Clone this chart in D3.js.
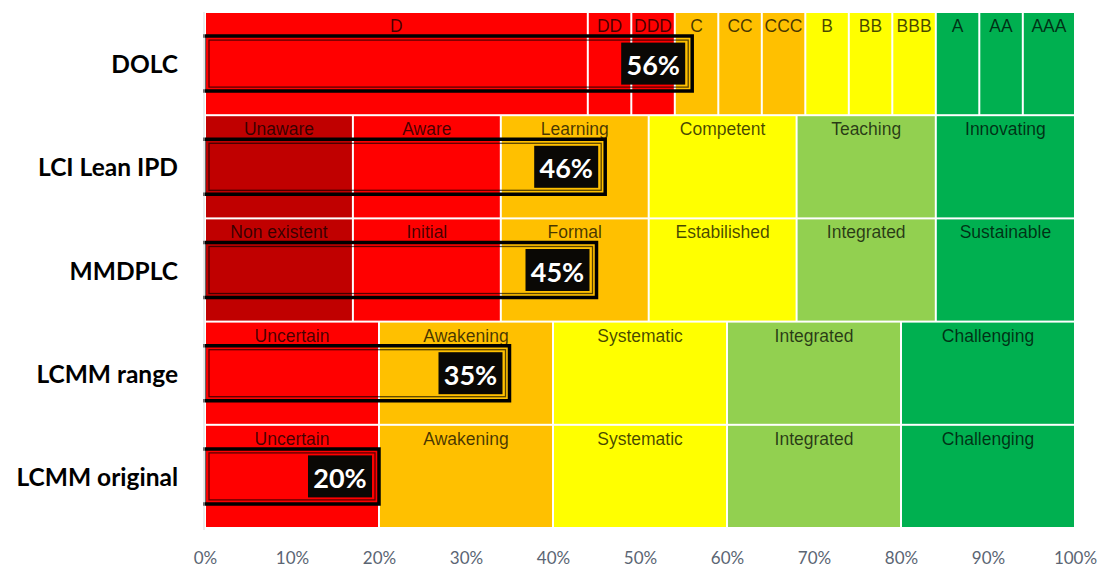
<!DOCTYPE html>
<html><head><meta charset="utf-8">
<script src="https://cdn.jsdelivr.net/npm/d3@7/dist/d3.min.js"></script>
<style>body{margin:0;background:#fff}svg{display:block}</style>
</head><body>
<svg id="chart" width="1099" height="570"></svg>
<script>
const categories = ["DOLC","LCI Lean IPD","MMDPLC","LCMM range","LCMM original"];
const scores = [56,46,45,35,20];
const dolcLevels = ["D","DD","DDD","C","CC","CCC","B","BB","BBB","A","AA","AAA"];
const dolcWidths = [44,5,5,5,5,5,5,5,5,5,5,6];
const dolcColors = ["#FF0000","#FF0000","#FF0000","#FFC000","#FFC000","#FFC000","#FFFF00","#FFFF00","#FFFF00","#00B050","#00B050","#00B050"];
const lciLevels = ["Unaware","Aware","Learning","Competent","Teaching","Innovating"];
const mmdplcLevels = ["Non existent","Initial","Formal","Estabilished","Integrated","Sustainable"];
const sixWidths = [17,17,17,17,16,16];
const sixColors = ["#C00000","#FF0000","#FFC000","#FFFF00","#92D050","#00B050"];
const lcmmLevels = ["Uncertain","Awakening","Systematic","Integrated","Challenging"];
const lcmmWidths = [20,20,20,20,20];
const lcmmColors = ["#FF0000","#FFC000","#FFFF00","#92D050","#00B050"];
const tickValues = [0,10,20,30,40,50,60,70,80,90,100];

const rows = [
  {levels: dolcLevels, widths: dolcWidths, colors: dolcColors},
  {levels: lciLevels, widths: sixWidths, colors: sixColors},
  {levels: mmdplcLevels, widths: sixWidths, colors: sixColors},
  {levels: lcmmLevels, widths: lcmmWidths, colors: lcmmColors},
  {levels: lcmmLevels, widths: lcmmWidths, colors: lcmmColors}
];

const svg = d3.select("#chart");
const x = d3.scaleLinear().domain([0,100]).range([205,1075]);
const y = d3.scaleBand().domain(categories).range([12,528]).paddingInner(0);
const bw = y.bandwidth();

categories.forEach((cat, i) => {
  const r = rows[i];
  let acc = 0;
  const segs = r.levels.map((lv, j) => {
    const s = {name: lv, x0: acc, x1: acc + r.widths[j], color: r.colors[j]};
    acc += r.widths[j];
    return s;
  });
  const g = svg.append("g");
  const y0 = y(cat);
  g.selectAll("rect.seg").data(segs).join("rect")
    .attr("class","seg")
    .attr("x", d => x(d.x0) + 1)
    .attr("y", y0 + 1)
    .attr("width", d => x(d.x1) - x(d.x0) - 2)
    .attr("height", bw - 2)
    .attr("fill", d => d.color);
  g.selectAll("text.lv").data(segs).join("text")
    .attr("class","lv")
    .attr("x", d => (x(d.x0) + x(d.x1)) / 2)
    .attr("y", y0 + 20)
    .attr("text-anchor","middle")
    .attr("font-family","'Liberation Sans', Arial, sans-serif")
    .attr("font-size", 17.5)
    .attr("fill","#000")
    .attr("fill-opacity", 0.72)
    .text(d => d.name);

  // category label
  svg.append("text")
    .attr("x", 178).attr("y", y0 + bw/2)
    .attr("text-anchor","end").attr("dominant-baseline","central")
    .attr("font-family","Lato, 'Open Sans', sans-serif")
    .attr("font-weight","bold").attr("font-size", 24.5)
    .attr("fill","#000")
    .text(cat);

  // score bar
  const bh = 55;
  const by0 = y0 + bw/2 - bh/2, by1 = by0 + bh;
  const xe = x(scores[i]);
  const xs = x(0);
  g.append("rect")
    .attr("x", xs + 4).attr("y", by0 + 4)
    .attr("width", xe - xs - 8).attr("height", bh - 8)
    .attr("fill","none").attr("stroke","#000").attr("stroke-opacity",0.65).attr("stroke-width",1.3);
  g.append("path")
    .attr("d", `M${xs-2},${by0}H${xe}V${by1}H${xs-2}`)
    .attr("fill","none").attr("stroke","#000").attr("stroke-width",3.5);
  g.append("line")
    .attr("x1", xs+0.5).attr("x2", xs+0.5).attr("y1", by0).attr("y2", by1)
    .attr("stroke","#000").attr("stroke-opacity",0.6).attr("stroke-width",1.2);
  // value box
  const boxW = 64, boxH = 42;
  g.append("rect")
    .attr("x", xe - 7 - boxW).attr("y", y0 + bw/2 - boxH/2)
    .attr("width", boxW).attr("height", boxH)
    .attr("fill","#0a0805");
  g.append("text")
    .attr("x", xe - 7 - boxW/2).attr("y", y0 + bw/2 + 1)
    .attr("text-anchor","middle").attr("dominant-baseline","central")
    .attr("font-family","Lato, 'Open Sans', sans-serif")
    .attr("font-weight","bold").attr("font-size", 27)
    .attr("fill","#fff")
    .text(scores[i] + "%");
});

// faint axis line
svg.append("line").attr("x1",204).attr("x2",204).attr("y1",12).attr("y2",530)
  .attr("stroke","#d9d9d9").attr("stroke-width",1);

const axis = d3.axisBottom(x).tickValues(tickValues).tickFormat(d => d + "%").tickSize(0).tickPadding(0);
const ag = svg.append("g").attr("transform","translate(0,552)").call(axis);
ag.select(".domain").remove();
ag.selectAll("text")
  .attr("font-family","Lato, 'Open Sans', sans-serif")
  .attr("font-size", 17)
  .attr("fill","#5b6573");
</script>
</body></html>
